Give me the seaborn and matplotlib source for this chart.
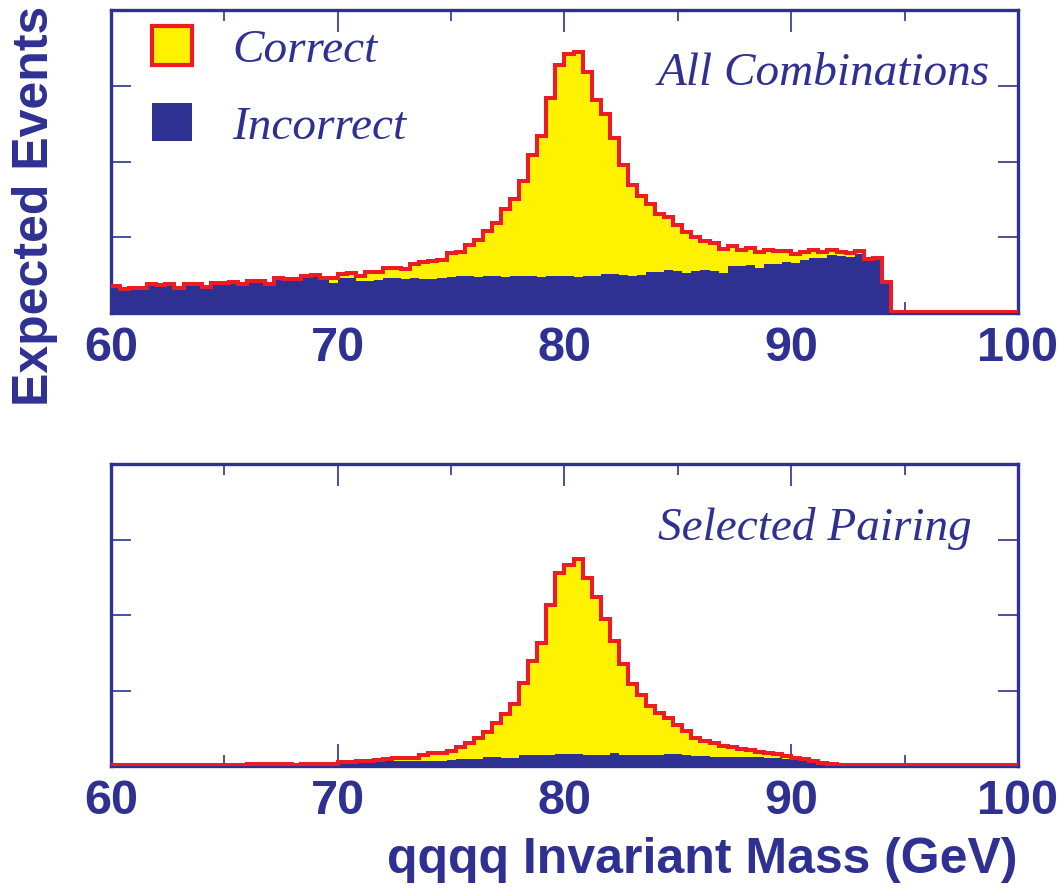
import numpy as np
import pandas as pd
import matplotlib
matplotlib.use("Agg")
import matplotlib.pyplot as plt
import seaborn as sns
from matplotlib.patches import Patch

# ---------------------------------------------------------------------------
# Reconstructed dijet-pair invariant mass, 0.4 GeV bins from 60 to 100 GeV
# ---------------------------------------------------------------------------
mass_low, mass_high, n_bins = 60.0, 100.0, 100

# All combinations: stacked height (correct + incorrect) and incorrect part
all_total = [
    0.355, 0.320, 0.330, 0.330, 0.377, 0.368, 0.377, 0.325, 0.386, 0.377,
    0.346, 0.390, 0.390, 0.404, 0.386, 0.417, 0.417, 0.386, 0.465, 0.450,
    0.443, 0.487, 0.500, 0.456, 0.456, 0.518, 0.530, 0.487, 0.544, 0.535,
    0.597, 0.597, 0.575, 0.650, 0.676, 0.693, 0.700, 0.795, 0.805, 0.900,
    0.960, 1.087, 1.195, 1.373, 1.500, 1.740, 2.090, 2.335, 2.845, 3.270,
    3.415, 3.450, 3.180, 2.815, 2.625, 2.315, 1.955, 1.695, 1.545, 1.435,
    1.310, 1.270, 1.160, 1.070, 1.000, 0.945, 0.922, 0.840, 0.890, 0.830,
    0.856, 0.807, 0.830, 0.816, 0.816, 0.785, 0.807, 0.838, 0.807, 0.838,
    0.807, 0.798, 0.820, 0.715, 0.728, 0.410, 0.015, 0.015, 0.015, 0.015,
    0.015, 0.015, 0.015, 0.015, 0.015, 0.015, 0.015, 0.015, 0.015, 0.015,
]
all_incorrect = [
    0.340, 0.305, 0.315, 0.315, 0.360, 0.355, 0.360, 0.310, 0.370, 0.360,
    0.330, 0.375, 0.375, 0.385, 0.370, 0.400, 0.400, 0.370, 0.445, 0.430,
    0.425, 0.465, 0.480, 0.430, 0.400, 0.456, 0.456, 0.420, 0.425, 0.434,
    0.465, 0.465, 0.455, 0.460, 0.455, 0.450, 0.460, 0.480, 0.487, 0.487,
    0.480, 0.487, 0.487, 0.480, 0.487, 0.490, 0.487, 0.480, 0.487, 0.490,
    0.487, 0.480, 0.490, 0.487, 0.515, 0.520, 0.500, 0.490, 0.500, 0.540,
    0.540, 0.566, 0.557, 0.530, 0.550, 0.566, 0.557, 0.530, 0.620, 0.627,
    0.636, 0.600, 0.653, 0.653, 0.680, 0.660, 0.697, 0.732, 0.732, 0.763,
    0.750, 0.740, 0.777, 0.700, 0.700, 0.410, 0.000, 0.000, 0.000, 0.000,
    0.000, 0.000, 0.000, 0.000, 0.000, 0.000, 0.000, 0.000, 0.000, 0.000,
]

# Selected pairing: stacked height and incorrect part
sel_total = [
    0.012, 0.012, 0.012, 0.012, 0.012, 0.012, 0.012, 0.012, 0.012, 0.012,
    0.014, 0.014, 0.014, 0.014, 0.014, 0.030, 0.030, 0.030, 0.030, 0.028,
    0.015, 0.030, 0.030, 0.032, 0.032, 0.055, 0.058, 0.060, 0.062, 0.079,
    0.096, 0.100, 0.105, 0.110, 0.150, 0.175, 0.175, 0.197, 0.254, 0.311,
    0.377, 0.455, 0.565, 0.685, 0.820, 1.097, 1.395, 1.636, 2.127, 2.557,
    2.658, 2.746, 2.490, 2.240, 1.943, 1.658, 1.350, 1.088, 0.947, 0.800,
    0.700, 0.640, 0.545, 0.470, 0.377, 0.329, 0.311, 0.268, 0.250, 0.232,
    0.210, 0.189, 0.167, 0.158, 0.132, 0.105, 0.088, 0.066, 0.044, 0.026,
    0.018, 0.015, 0.012, 0.012, 0.012, 0.012, 0.012, 0.012, 0.012, 0.012,
    0.012, 0.012, 0.012, 0.012, 0.012, 0.012, 0.012, 0.012, 0.012, 0.012,
]
sel_incorrect = [
    0.005, 0.005, 0.005, 0.005, 0.005, 0.005, 0.005, 0.005, 0.005, 0.005,
    0.006, 0.006, 0.006, 0.006, 0.006, 0.020, 0.020, 0.020, 0.020, 0.018,
    0.010, 0.020, 0.020, 0.022, 0.022, 0.045, 0.048, 0.050, 0.052, 0.060,
    0.060, 0.065, 0.070, 0.070, 0.066, 0.066, 0.070, 0.075, 0.088, 0.090,
    0.096, 0.116, 0.120, 0.110, 0.100, 0.143, 0.143, 0.143, 0.152, 0.154,
    0.158, 0.162, 0.150, 0.148, 0.145, 0.170, 0.152, 0.150, 0.150, 0.150,
    0.148, 0.165, 0.160, 0.150, 0.138, 0.135, 0.125, 0.125, 0.125, 0.120,
    0.118, 0.115, 0.110, 0.105, 0.096, 0.080, 0.066, 0.050, 0.035, 0.020,
    0.013, 0.010, 0.004, 0.004, 0.004, 0.004, 0.004, 0.004, 0.004, 0.004,
    0.004, 0.004, 0.004, 0.004, 0.004, 0.004, 0.004, 0.004, 0.004, 0.004,
]

x_ticks = [60, 70, 80, 90, 100]
x_tick_labels = ["60", "70", "80", "90", "100"]
x_minor_ticks = [65, 75, 85, 95]
y_ticks = [1, 2, 3]
categories = ["Correct", "Incorrect"]
panel_titles = ["All Combinations", "Selected Pairing"]

NAVY = "#2E3192"
YELLOW = "#FFF200"
RED = "#ED1C24"

sns.set_theme(style="ticks")
plt.rcParams["font.family"] = ["Liberation Sans", "DejaVu Sans"]
SERIF = ["Liberation Serif", "DejaVu Serif"]

edges = np.linspace(mass_low, mass_high, n_bins + 1)
centers = 0.5 * (edges[:-1] + edges[1:])
bin_list = [float(e) for e in edges]


def panel_frame(total, incorrect):
    total = np.asarray(total, dtype=float)
    incorrect = np.asarray(incorrect, dtype=float)
    correct = np.clip(total - incorrect, 0, None)
    return pd.DataFrame({
        "mass": np.concatenate([centers, centers]),
        "events": np.concatenate([correct, incorrect]),
        "pairing": ["Correct"] * n_bins + ["Incorrect"] * n_bins,
    })


def draw_panel(ax, total, incorrect, title, title_pos):
    df = panel_frame(total, incorrect)
    sns.histplot(
        data=df, x="mass", weights="events", hue="pairing",
        hue_order=categories, multiple="stack", bins=bin_list,
        element="step", fill=True, alpha=1, linewidth=0,
        palette={"Correct": YELLOW, "Incorrect": NAVY},
        legend=False, ax=ax,
    )
    outline = pd.DataFrame({"mass": centers,
                            "events": np.asarray(total, dtype=float)})
    sns.histplot(
        data=outline, x="mass", weights="events", bins=bin_list,
        element="step", fill=False, color=RED, linewidth=2.9, ax=ax,
    )
    ax.lines[-1].set_zorder(3)
    ax.lines[-1].set_solid_joinstyle("miter")

    ax.set_xlim(mass_low, mass_high)
    ax.set_ylim(0, 4)
    ax.set_xticks(x_ticks)
    ax.set_xticklabels(x_tick_labels, fontsize=35, fontweight="bold",
                       color=NAVY)
    ax.set_xticks(x_minor_ticks, minor=True)
    ax.set_yticks(y_ticks)
    ax.set_yticklabels([])
    ax.tick_params(axis="both", which="both", direction="in",
                   top=True, right=True, color=NAVY, width=1.2)
    ax.tick_params(axis="x", which="major", length=16, pad=9)
    ax.tick_params(axis="x", which="minor", length=8)
    ax.tick_params(axis="y", which="major", length=14.5)
    ax.set_xlabel("")
    ax.set_ylabel("")
    for spine in ax.spines.values():
        spine.set_color(NAVY)
        spine.set_linewidth(2.4)

    ax.text(title_pos[0], title_pos[1], title, transform=ax.transAxes,
            ha="right", va="baseline", fontsize=34, style="italic",
            family=SERIF, color=NAVY)


fig = plt.figure(figsize=(10.64, 8.90), dpi=100)
ax_top = fig.add_axes([0.1043, 0.6483, 0.8524, 0.3404])
ax_bot = fig.add_axes([0.1043, 0.1393, 0.8524, 0.3393])

draw_panel(ax_top, all_total, all_incorrect, panel_titles[0], (0.969, 0.752))
draw_panel(ax_bot, sel_total, sel_incorrect, panel_titles[1], (0.949, 0.748))

ax_top.set_ylabel("Expected Events", fontsize=36, fontweight="bold",
                  color=NAVY)
ax_top.yaxis.set_label_coords(-0.058, 0.353)

ax_bot.set_xlabel("qqqq Invariant Mass (GeV)", fontsize=36,
                  fontweight="bold", color=NAVY)
ax_bot.xaxis.label.set_ha("right")
ax_bot.xaxis.set_label_coords(1.0, -0.236)

handles = [
    Patch(facecolor=YELLOW, edgecolor=RED, linewidth=3.0),
    Patch(facecolor=NAVY, edgecolor=NAVY, linewidth=0),
]
ax_top.legend(
    handles, categories, loc="upper left", bbox_to_anchor=(0.0452, 0.946),
    frameon=False, borderpad=0, borderaxespad=0,
    handlelength=0.85, handleheight=0.87, handletextpad=0.85,
    labelspacing=0.66, labelcolor=NAVY,
    prop={"family": SERIF, "style": "italic", "size": 34},
)

fig.savefig("out.png", dpi=100)
